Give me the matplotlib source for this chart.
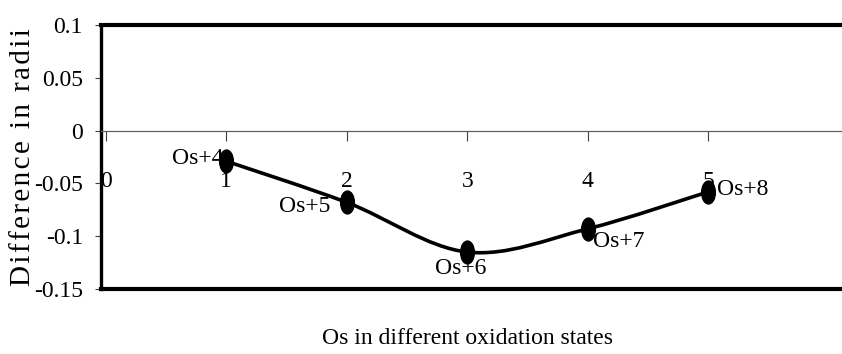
import numpy as np
import matplotlib
matplotlib.use('Agg')
import matplotlib.pyplot as plt
from matplotlib.path import Path
from matplotlib.patches import PathPatch
from matplotlib.markers import MarkerStyle
from matplotlib.transforms import Affine2D

plt.rcParams['font.family'] = ['Liberation Serif', 'DejaVu Serif']
plt.rcParams['font.size'] = 17

# oxidation states of Os vs difference in radii
state_idx = [1, 2, 3, 4, 5]
radii_diff = [-0.029, -0.068, -0.115, -0.093, -0.058]
state_labels = ['Os+4', 'Os+5', 'Os+6', 'Os+7', 'Os+8']
x_ticks = [0, 1, 2, 3, 4, 5]
y_ticks = [-0.15, -0.1, -0.05, 0, 0.05, 0.1]
y_tick_labels = ['-0.15', '-0.1', '-0.05', '0', '0.05', '0.1']

fig = plt.figure(figsize=(8.42, 3.54), dpi=100, facecolor='white')
ax = fig.add_axes((0.120, 0.1836, 0.880, 0.7458))
ax.set_xlim(-0.04, 6.11)
ax.set_ylim(-0.15, 0.1)

# frame: heavy top/bottom/left, x axis runs along y = 0
ax.spines['right'].set_visible(False)
ax.spines['top'].set_linewidth(3.0)
ax.spines['left'].set_linewidth(2.4)
ax.spines['bottom'].set_position(('data', 0))
ax.spines['bottom'].set_color('#606060')
ax.spines['bottom'].set_linewidth(0.9)
ax.axhline(-0.15, color='black', lw=3.0, clip_on=False, zorder=3)

ax.set_xticks(x_ticks)
ax.set_xticklabels([str(t) for t in x_ticks])
ax.set_yticks(y_ticks)
ax.set_yticklabels(y_tick_labels)
ax.tick_params(axis='x', direction='out', length=7.5, width=0.8, color='#404040', pad=21.5)
ax.tick_params(axis='y', direction='out', length=4.5, width=0.8, color='#404040', pad=8.5)

# smoothed line (Excel-style cubic Bezier through the points)
pts = np.column_stack([state_idx, radii_diff]).astype(float)
n = len(pts)
verts = [pts[0]]
codes = [Path.MOVETO]
for i in range(n - 1):
    p0 = pts[i - 1] if i > 0 else pts[i]
    p1, p2 = pts[i], pts[i + 1]
    p3 = pts[i + 2] if i + 2 < n else pts[i + 1]
    verts += [p1 + (p2 - p0) / 6, p2 - (p3 - p1) / 6, p2]
    codes += [Path.CURVE4] * 3
ax.add_patch(PathPatch(Path(verts, codes), facecolor='none', edgecolor='black',
                       lw=2.6, zorder=4))

# tall elliptical markers
ell = Path.unit_circle().transformed(Affine2D().scale(0.6, 1.0))
ax.plot(state_idx, radii_diff, ls='none', marker=MarkerStyle(ell),
        ms=16.5, color='black', zorder=5)

# point labels
offsets = [(-2, 2, 'right'), (-12, -3, 'right'), (-5, -12, 'center'),
           (4, -9, 'left'), (6.5, 1.5, 'left')]
for x, y, lab, (dx, dy, ha) in zip(state_idx, radii_diff, state_labels, offsets):
    ax.annotate(lab, (x, y), xytext=(dx, dy), textcoords='offset points',
                ha=ha, va='center', zorder=6)

# letter-spaced axis title (hair spaces between letters)
ylab = '\u200a'.join('Difference in radii')
fig.text(23.5 / 842, 1 - 157 / 354, ylab, fontsize=21,
         rotation=90, ha='center', va='center')
fig.text(468 / 842, 1 - 339 / 354, 'Os in different oxidation states',
         ha='center', va='center')

fig.savefig('out.png', dpi=100)
